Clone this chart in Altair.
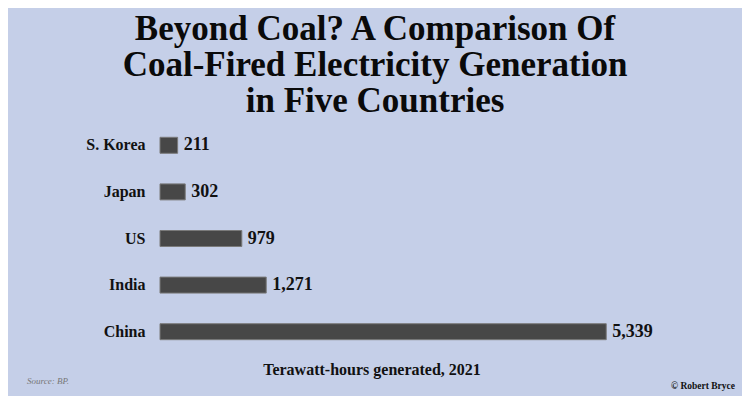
import altair as alt
import pandas as pd

countries = ["S. Korea", "Japan", "US", "India", "China"]
values = [211, 302, 979, 1271, 5339]
title_lines = ["Beyond Coal? A Comparison Of",
               "Coal-Fired Electricity Generation",
               "in Five Countries"]
x_title = "Terawatt-hours generated, 2021"
source = "Source: BP."
credit = "© Robert Bryce"

df = pd.DataFrame({"country": countries, "value": values})
df["label"] = [f"{v:,}" for v in values]

BG = "#c5cfe8"
SERIF = "Liberation Serif"
W, H = 560, 233

xs = alt.Scale(domain=[0, 6700], nice=False, zero=True)
ys = alt.Scale(domain=countries, paddingInner=0.657, paddingOuter=0.3285)

base = alt.Chart(df)
bars = base.mark_bar(color="#474747", stroke="#7a7a7a", strokeWidth=1).encode(
    x=alt.X("value:Q", scale=xs, axis=None),
    y=alt.Y("country:N", scale=ys, sort=countries,
            axis=alt.Axis(title=None, domain=False, ticks=False, labelPadding=15,
                          labelFont=SERIF, labelFontWeight="bold", labelFontSize=16,
                          labelColor="#111111")),
)
labels = base.mark_text(align="left", baseline="middle", dx=6, font=SERIF,
                        fontWeight="bold", fontSize=18, color="#111111").encode(
    x=alt.X("value:Q", scale=xs),
    y=alt.Y("country:N", scale=ys, sort=countries),
    text="label:N",
)

one = alt.Data(values=[{}])
texts = []
for i, line in enumerate(title_lines):
    texts.append(alt.Chart(one).mark_text(
        font=SERIF, fontWeight="bold", fontSize=35, color="#0a0a0a",
        align="center", baseline="alphabetic").encode(
        x=alt.value(215), y=alt.value(-82 + 36 * i), text=alt.value(line)))
texts.append(alt.Chart(one).mark_text(
    font=SERIF, fontWeight="bold", fontSize=16, color="#111111",
    align="center", baseline="alphabetic").encode(
    x=alt.value(212), y=alt.value(253), text=alt.value(x_title)))
texts.append(alt.Chart(one).mark_text(
    font=SERIF, fontStyle="italic", fontSize=9, color="#777777",
    align="left", baseline="alphabetic").encode(
    x=alt.value(-133), y=alt.value(262), text=alt.value(source)))
texts.append(alt.Chart(one).mark_text(
    font=SERIF, fontWeight="bold", fontSize=9.5, color="#111111",
    align="right", baseline="alphabetic").encode(
    x=alt.value(575), y=alt.value(267), text=alt.value(credit)))

chart = alt.layer(bars, labels, *texts).properties(
    width=W, height=H,
    autosize=alt.AutoSizeParams(type="none"),
    padding={"left": 152, "top": 114, "right": 22, "bottom": 41},
    background=BG,
).configure_view(stroke=None)

chart.save("out.html", embed_options={"renderer": "svg", "actions": False})
